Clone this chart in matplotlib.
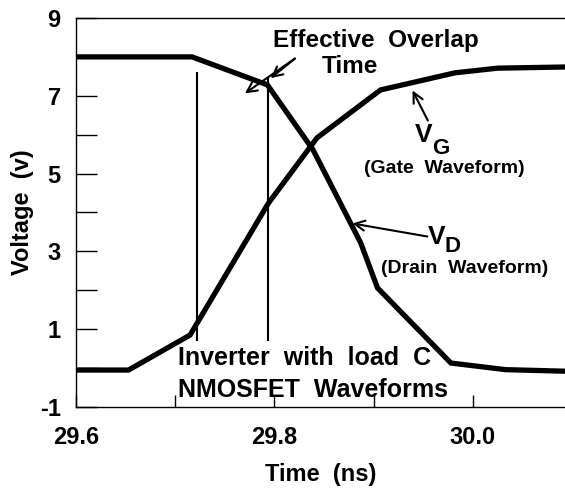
import matplotlib
matplotlib.use("Agg")
import matplotlib.pyplot as plt

# drain and gate waveforms (time in ns, volts)
drain_t = [29.600, 29.717, 29.793, 29.839, 29.887, 29.904, 29.978, 30.033, 30.093]
drain_v = [8.00, 8.00, 7.28, 5.61, 3.22, 2.06, 0.13, -0.04, -0.08]
gate_t = [29.600, 29.653, 29.715, 29.794, 29.843, 29.907, 29.982, 30.025, 30.093]
gate_v = [-0.05, -0.05, 0.85, 4.24, 5.92, 7.15, 7.59, 7.71, 7.74]

# effective overlap markers
overlap_t = [29.722, 29.794]
overlap_top = [7.59, 7.46]
overlap_bottom = 0.72

yticks = [-1, 0, 1, 2, 3, 4, 5, 6, 7, 8, 9]
ylabels = ["-1", "", "1", "", "3", "", "5", "", "7", "", "9"]
xticks = [29.6, 29.7, 29.8, 29.9, 30.0]
xlabels = ["29.6", "", "29.8", "", "30.0"]

plt.rcParams["font.family"] = ["Liberation Sans", "DejaVu Sans"]
plt.rcParams["font.weight"] = "bold"

fig = plt.figure(figsize=(5.65, 4.9), dpi=100)
ax = fig.add_axes([0.1345, 0.1694, 0.8655, 0.7939])

ax.plot(drain_t, drain_v, color="black", lw=3.8, solid_joinstyle="miter")
ax.plot(gate_t, gate_v, color="black", lw=3.8, solid_joinstyle="miter")
for t, top in zip(overlap_t, overlap_top):
    ax.plot([t, t], [overlap_bottom, top], color="black", lw=1.5)

ax.set_xlim(29.6, 30.093)
ax.set_ylim(-1, 9)
ax.set_xticks(xticks)
ax.set_xticklabels(xlabels)
ax.set_yticks(yticks)
ax.set_yticklabels(ylabels)
ax.tick_params(direction="in", length=9, width=1, labelsize=17, pad=14)
ax.tick_params(axis="y", length=15, pad=11)
ax.spines["right"].set_visible(False)
for s in ["left", "bottom", "top"]:
    ax.spines[s].set_linewidth(1)

ax.set_xlabel("Time  (ns)", fontsize=17, fontweight="bold", labelpad=10)
ax.set_ylabel("Voltage  (v)", fontsize=17, fontweight="bold", labelpad=4)

# annotations
ax.text(29.902, 8.43, "Effective  Overlap", fontsize=17.5, ha="center", va="center")
ax.text(29.876, 7.74, "Time", fontsize=17.5, ha="center", va="center")
arr = dict(arrowstyle="->", color="black", lw=1.5, mutation_scale=18)
ax.annotate("", xy=(29.768, 7.02), xytext=(29.823, 8.0), arrowprops=arr)
ax.annotate("", xy=(29.794, 7.41), xytext=(29.823, 8.0), arrowprops=arr)

ax.annotate("", xy=(29.938, 7.20), xytext=(29.956, 6.30), arrowprops=arr)
ax.text(29.950, 5.99, "V", fontsize=19, ha="center", va="center")
ax.text(29.968, 5.64, "G", fontsize=16, ha="center", va="center")
ax.text(29.971, 5.14, "(Gate  Waveform)", fontsize=14, ha="center", va="center")

ax.annotate("", xy=(29.876, 3.73), xytext=(29.957, 3.37), arrowprops=arr)
ax.text(29.964, 3.37, "V", fontsize=19, ha="center", va="center")
ax.text(29.980, 3.12, "D", fontsize=16, ha="center", va="center")
ax.text(29.992, 2.57, "(Drain  Waveform)", fontsize=14, ha="center", va="center")

ax.text(29.703, 0.26, "Inverter  with  load  C", fontsize=18, ha="left", va="center")
ax.text(29.703, -0.56, "NMOSFET  Waveforms", fontsize=18, ha="left", va="center")

fig.savefig("out.png", dpi=100)
